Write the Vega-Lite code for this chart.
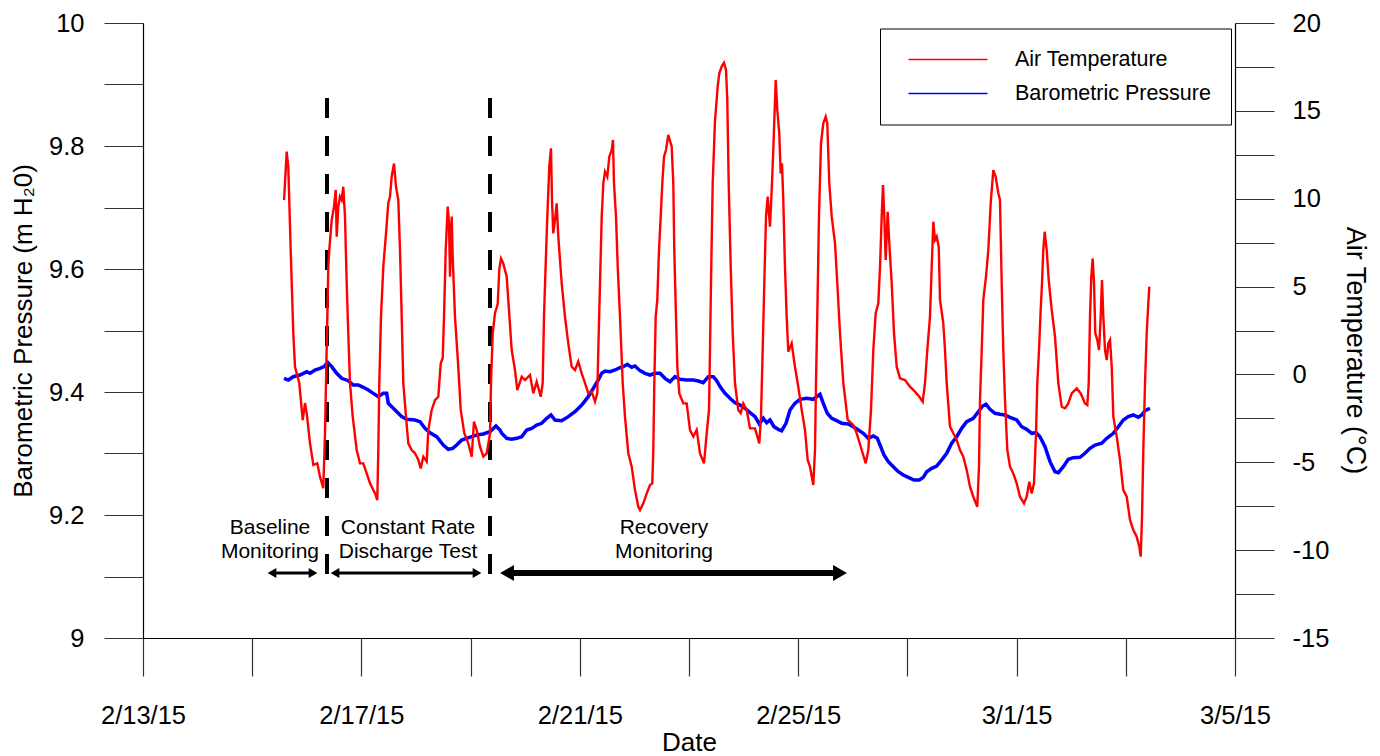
{
  "$schema": "https://vega.github.io/schema/vega-lite/v6.json",
  "width": 1092,
  "height": 615,
  "autosize": {"type": "none"},
  "padding": {"left": 143, "top": 23, "right": 145, "bottom": 118},
  "background": "white",
  "config": {
    "view": {"stroke": null},
    "font": "Liberation Sans",
    "axis": {
      "labelFont": "Liberation Sans", "titleFont": "Liberation Sans",
      "labelFontSize": 25.5, "titleFontSize": 26, "titleFontWeight": "normal",
      "labelColor": "black", "titleColor": "black",
      "domainColor": "black", "domainWidth": 1.2,
      "tickColor": "#333", "tickWidth": 1.2,
      "grid": false, "labelOverlap": false, "labelFlush": false, "labelBound": false
    },
    "text": {"font": "Liberation Sans"}
  },
  "datasets": {
    "temp": [
      {"t":"2015-02-15T14:00","v":9.93},{"t":"2015-02-15T14:25","v":10.9},{"t":"2015-02-15T15:10","v":12.68},{"t":"2015-02-15T15:52","v":11.8},{"t":"2015-02-15T16:55","v":7.08},{"t":"2015-02-15T18:04","v":2.34},{"t":"2015-02-15T18:49","v":0.44},{"t":"2015-02-15T20:42","v":-0.5},{"t":"2015-02-15T22:12","v":-2.6},{"t":"2015-02-15T23:13","v":-1.63},{"t":"2015-02-15T23:58","v":-2.2},
      {"t":"2015-02-16T01:25","v":-3.92},{"t":"2015-02-16T02:52","v":-5.15},{"t":"2015-02-16T04:37","v":-5.06},{"t":"2015-02-16T05:48","v":-5.82},{"t":"2015-02-16T07:15","v":-6.48},{"t":"2015-02-16T08:00","v":-3.35},{"t":"2015-02-16T08:26","v":-0.5},{"t":"2015-02-16T09:01","v":3.29},{"t":"2015-02-16T09:27","v":6.13},{"t":"2015-02-16T09:53","v":7.08},{"t":"2015-02-16T10:57","v":8.79},{"t":"2015-02-16T11:58","v":9.55},{"t":"2015-02-16T12:43","v":10.5},{"t":"2015-02-16T13:09","v":7.84},{"t":"2015-02-16T13:51","v":9.55},{"t":"2015-02-16T14:35","v":10.12},{"t":"2015-02-16T15:20","v":9.93},{"t":"2015-02-16T16:02","v":10.68},{"t":"2015-02-16T16:47","v":8.98},{"t":"2015-02-16T17:32","v":5.19},{"t":"2015-02-16T18:14","v":2.34},{"t":"2015-02-16T18:59","v":-0.5},{"t":"2015-02-16T20:11","v":-2.4},{"t":"2015-02-16T21:56","v":-4.3},{"t":"2015-02-16T23:23","v":-5.06},
      {"t":"2015-02-17T00:50","v":-5.06},{"t":"2015-02-17T02:20","v":-5.63},{"t":"2015-02-17T03:47","v":-6.2},{"t":"2015-02-17T05:59","v":-6.77},{"t":"2015-02-17T06:59","v":-7.15},{"t":"2015-02-17T07:26","v":-4.3},{"t":"2015-02-17T07:52","v":-0.5},{"t":"2015-02-17T08:37","v":3.29},{"t":"2015-02-17T09:38","v":6.13},{"t":"2015-02-17T10:49","v":8.03},{"t":"2015-02-17T11:49","v":9.74},{"t":"2015-02-17T12:34","v":10.12},{"t":"2015-02-17T13:19","v":11.25},{"t":"2015-02-17T14:20","v":12.0},{"t":"2015-02-17T15:13","v":10.68},{"t":"2015-02-17T16:13","v":9.93},{"t":"2015-02-17T16:58","v":7.08},{"t":"2015-02-17T17:43","v":3.29},{"t":"2015-02-17T18:25","v":-0.5},{"t":"2015-02-17T19:36","v":-2.4},{"t":"2015-02-17T20:37","v":-3.92},{"t":"2015-02-17T22:07","v":-4.3},{"t":"2015-02-17T23:34","v":-4.49},
      {"t":"2015-02-18T01:01","v":-4.87},{"t":"2015-02-18T02:04","v":-5.35},{"t":"2015-02-18T03:13","v":-4.68},{"t":"2015-02-18T04:42","v":-4.96},{"t":"2015-02-18T05:25","v":-3.16},{"t":"2015-02-18T06:54","v":-2.02},{"t":"2015-02-18T08:21","v":-1.46},{"t":"2015-02-18T09:48","v":-1.27},{"t":"2015-02-18T10:52","v":0.63},{"t":"2015-02-18T11:44","v":0.92},{"t":"2015-02-18T12:19","v":3.29},{"t":"2015-02-18T13:04","v":7.08},{"t":"2015-02-18T13:56","v":9.55},{"t":"2015-02-18T14:31","v":8.6},{"t":"2015-02-18T14:57","v":5.56},{"t":"2015-02-18T15:41","v":8.98},{"t":"2015-02-18T16:08","v":6.7},{"t":"2015-02-18T17:08","v":3.29},{"t":"2015-02-18T18:35","v":0.44},{"t":"2015-02-18T19:39","v":-2.02},{"t":"2015-02-18T21:14","v":-3.35},{"t":"2015-02-18T22:59","v":-3.92},
      {"t":"2015-02-19T00:29","v":-4.68},{"t":"2015-02-19T01:29","v":-2.69},{"t":"2015-02-19T02:41","v":-3.16},{"t":"2015-02-19T04:08","v":-4.11},{"t":"2015-02-19T05:35","v":-4.68},{"t":"2015-02-19T07:05","v":-4.49},{"t":"2015-02-19T08:32","v":-3.35},{"t":"2015-02-19T08:58","v":-0.5},{"t":"2015-02-19T09:43","v":2.34},{"t":"2015-02-19T10:44","v":3.5},{"t":"2015-02-19T11:55","v":4.0},{"t":"2015-02-19T12:37","v":6.0},{"t":"2015-02-19T13:22","v":6.6},{"t":"2015-02-19T14:22","v":6.32},{"t":"2015-02-19T15:52","v":5.56},{"t":"2015-02-19T16:34","v":4.23},{"t":"2015-02-19T18:04","v":1.39},{"t":"2015-02-19T19:31","v":0.25},{"t":"2015-02-19T20:32","v":-0.89},{"t":"2015-02-19T22:28","v":-0.13},{"t":"2015-02-19T23:55","v":-0.32},
      {"t":"2015-02-20T02:07","v":-0.03},{"t":"2015-02-20T03:34","v":-1.08},{"t":"2015-02-20T05:03","v":-0.41},{"t":"2015-02-20T06:49","v":-1.27},{"t":"2015-02-20T07:41","v":-0.5},{"t":"2015-02-20T08:16","v":3.29},{"t":"2015-02-20T09:01","v":6.32},{"t":"2015-02-20T09:43","v":8.98},{"t":"2015-02-20T10:35","v":11.82},{"t":"2015-02-20T11:20","v":12.87},{"t":"2015-02-20T11:47","v":9.93},{"t":"2015-02-20T12:21","v":8.03},{"t":"2015-02-20T13:06","v":8.79},{"t":"2015-02-20T13:50","v":9.74},{"t":"2015-02-20T14:33","v":7.84},{"t":"2015-02-20T16:02","v":5.19},{"t":"2015-02-20T17:29","v":3.29},{"t":"2015-02-20T18:56","v":1.77},{"t":"2015-02-20T20:26","v":0.44},{"t":"2015-02-20T21:53","v":0.25},{"t":"2015-02-20T23:20","v":0.73},
      {"t":"2015-02-21T00:50","v":0.06},{"t":"2015-02-21T02:17","v":-0.5},{"t":"2015-02-21T03:44","v":-1.08},{"t":"2015-02-21T05:14","v":-0.98},{"t":"2015-02-21T06:41","v":-1.55},{"t":"2015-02-21T07:41","v":-1.08},{"t":"2015-02-21T08:08","v":1.39},{"t":"2015-02-21T08:53","v":5.19},{"t":"2015-02-21T09:38","v":8.98},{"t":"2015-02-21T10:20","v":10.88},{"t":"2015-02-21T11:05","v":11.54},{"t":"2015-02-21T12:05","v":11.25},{"t":"2015-02-21T12:58","v":12.39},{"t":"2015-02-21T14:01","v":12.77},{"t":"2015-02-21T14:35","v":13.34},{"t":"2015-02-21T15:02","v":10.88},{"t":"2015-02-21T15:55","v":8.98},{"t":"2015-02-21T16:40","v":6.13},{"t":"2015-02-21T17:40","v":3.29},{"t":"2015-02-21T18:52","v":-0.5},{"t":"2015-02-21T19:52","v":-2.4},{"t":"2015-02-21T21:19","v":-4.49},{"t":"2015-02-21T22:49","v":-5.25},
      {"t":"2015-02-22T00:16","v":-6.58},{"t":"2015-02-22T01:43","v":-7.53},{"t":"2015-02-22T02:28","v":-7.72},{"t":"2015-02-22T03:55","v":-7.34},{"t":"2015-02-22T05:25","v":-6.77},{"t":"2015-02-22T06:52","v":-6.29},{"t":"2015-02-22T07:52","v":-6.2},{"t":"2015-02-22T08:19","v":-4.3},{"t":"2015-02-22T08:45","v":-0.5},{"t":"2015-02-22T09:22","v":3.29},{"t":"2015-02-22T10:04","v":4.24},{"t":"2015-02-22T10:49","v":7.08},{"t":"2015-02-22T11:34","v":8.98},{"t":"2015-02-22T12:16","v":10.88},{"t":"2015-02-22T13:01","v":12.39},{"t":"2015-02-22T13:53","v":12.77},{"t":"2015-02-22T14:54","v":13.63},{"t":"2015-02-22T16:23","v":12.96},{"t":"2015-02-22T17:06","v":10.88},{"t":"2015-02-22T17:32","v":7.08},{"t":"2015-02-22T18:17","v":3.29},{"t":"2015-02-22T18:52","v":0.44},{"t":"2015-02-22T19:44","v":-1.08},{"t":"2015-02-22T21:30","v":-1.65},{"t":"2015-02-22T22:59","v":-1.65},
      {"t":"2015-02-23T00:26","v":-3.16},{"t":"2015-02-23T01:53","v":-3.54},{"t":"2015-02-23T03:23","v":-3.16},{"t":"2015-02-23T04:50","v":-4.49},{"t":"2015-02-23T06:36","v":-5.06},{"t":"2015-02-23T07:47","v":-3.35},{"t":"2015-02-23T08:47","v":-2.02},{"t":"2015-02-23T09:14","v":1.39},{"t":"2015-02-23T09:40","v":5.19},{"t":"2015-02-23T10:25","v":10.88},{"t":"2015-02-23T11:25","v":14.4},{"t":"2015-02-23T12:37","v":16.4},{"t":"2015-02-23T13:19","v":17.14},{"t":"2015-02-23T14:22","v":17.52},{"t":"2015-02-23T15:23","v":17.74},{"t":"2015-02-23T16:16","v":17.33},{"t":"2015-02-23T16:50","v":15.62},{"t":"2015-02-23T17:27","v":10.88},{"t":"2015-02-23T18:20","v":6.13},{"t":"2015-02-23T19:13","v":2.34},{"t":"2015-02-23T20:13","v":-0.5},{"t":"2015-02-23T21:40","v":-2.02},{"t":"2015-02-23T22:43","v":-2.2},{"t":"2015-02-23T23:52","v":-1.65},
      {"t":"2015-02-24T01:22","v":-2.02},{"t":"2015-02-24T02:49","v":-3.07},{"t":"2015-02-24T05:01","v":-3.07},{"t":"2015-02-24T06:54","v":-3.92},{"t":"2015-02-24T07:39","v":-2.4},{"t":"2015-02-24T08:23","v":1.39},{"t":"2015-02-24T09:06","v":5.19},{"t":"2015-02-24T09:51","v":8.98},{"t":"2015-02-24T10:35","v":10.12},{"t":"2015-02-24T11:36","v":8.41},{"t":"2015-02-24T12:21","v":10.5},{"t":"2015-02-24T13:03","v":12.77},{"t":"2015-02-24T14:07","v":16.76},{"t":"2015-02-24T14:49","v":15.05},{"t":"2015-02-24T15:41","v":13.72},{"t":"2015-02-24T16:18","v":11.44},{"t":"2015-02-24T16:52","v":12.01},{"t":"2015-02-24T17:27","v":9.93},{"t":"2015-02-24T18:11","v":6.13},{"t":"2015-02-24T18:56","v":3.29},{"t":"2015-02-24T19:38","v":1.29},{"t":"2015-02-24T21:08","v":1.77},{"t":"2015-02-24T22:35","v":0.44},
      {"t":"2015-02-25T00:02","v":-0.7},{"t":"2015-02-25T01:32","v":-2.02},{"t":"2015-02-25T02:59","v":-3.16},{"t":"2015-02-25T04:10","v":-4.87},{"t":"2015-02-25T05:11","v":-5.25},{"t":"2015-02-25T06:38","v":-6.29},{"t":"2015-02-25T07:23","v":-4.3},{"t":"2015-02-25T07:49","v":-0.5},{"t":"2015-02-25T08:23","v":3.29},{"t":"2015-02-25T09:08","v":8.98},{"t":"2015-02-25T10:01","v":13.15},{"t":"2015-02-25T11:02","v":14.29},{"t":"2015-02-25T12:05","v":14.67},{"t":"2015-02-25T12:47","v":14.29},{"t":"2015-02-25T13:40","v":10.88},{"t":"2015-02-25T14:44","v":8.98},{"t":"2015-02-25T16:11","v":7.46},{"t":"2015-02-25T17:11","v":5.19},{"t":"2015-02-25T18:23","v":2.34},{"t":"2015-02-25T19:50","v":-0.5},{"t":"2015-02-25T21:46","v":-2.59},
      {"t":"2015-02-26T00:13","v":-2.88},{"t":"2015-02-26T01:43","v":-3.35},{"t":"2015-02-26T03:55","v":-4.3},{"t":"2015-02-26T05:41","v":-5.06},{"t":"2015-02-26T06:49","v":-4.3},{"t":"2015-02-26T08:00","v":-2.02},{"t":"2015-02-26T09:01","v":1.39},{"t":"2015-02-26T10:04","v":3.48},{"t":"2015-02-26T11:13","v":4.05},{"t":"2015-02-26T11:58","v":6.13},{"t":"2015-02-26T12:42","v":8.98},{"t":"2015-02-26T13:16","v":10.78},{"t":"2015-02-26T13:51","v":8.98},{"t":"2015-02-26T14:28","v":6.51},{"t":"2015-02-26T15:20","v":9.26},{"t":"2015-02-26T16:03","v":7.46},{"t":"2015-02-26T17:06","v":5.19},{"t":"2015-02-26T18:07","v":2.34},{"t":"2015-02-26T19:18","v":0.44},{"t":"2015-02-26T20:45","v":-0.22},{"t":"2015-02-26T22:57","v":-0.32},
      {"t":"2015-02-27T01:08","v":-0.7},{"t":"2015-02-27T03:20","v":-0.98},{"t":"2015-02-27T05:14","v":-1.27},{"t":"2015-02-27T06:44","v":-1.55},{"t":"2015-02-27T07:44","v":-0.5},{"t":"2015-02-27T08:45","v":1.39},{"t":"2015-02-27T09:56","v":3.29},{"t":"2015-02-27T10:41","v":6.13},{"t":"2015-02-27T11:23","v":8.69},{"t":"2015-02-27T12:08","v":7.65},{"t":"2015-02-27T12:53","v":7.84},{"t":"2015-02-27T13:46","v":7.27},{"t":"2015-02-27T14:20","v":4.24},{"t":"2015-02-27T15:47","v":2.91},{"t":"2015-02-27T16:32","v":1.39},{"t":"2015-02-27T17:16","v":-0.5},{"t":"2015-02-27T18:44","v":-2.97},{"t":"2015-02-27T20:11","v":-3.35},{"t":"2015-02-27T21:40","v":-3.73},{"t":"2015-02-27T23:07","v":-4.3},
      {"t":"2015-02-28T00:34","v":-4.68},{"t":"2015-02-28T02:04","v":-5.44},{"t":"2015-02-28T03:31","v":-6.39},{"t":"2015-02-28T04:58","v":-6.96},{"t":"2015-02-28T06:43","v":-7.53},{"t":"2015-02-28T07:28","v":-5.25},{"t":"2015-02-28T07:55","v":-1.46},{"t":"2015-02-28T08:40","v":1.39},{"t":"2015-02-28T09:22","v":4.24},{"t":"2015-02-28T10:33","v":5.56},{"t":"2015-02-28T11:34","v":7.08},{"t":"2015-02-28T12:37","v":9.74},{"t":"2015-02-28T13:46","v":11.63},{"t":"2015-02-28T14:49","v":11.25},{"t":"2015-02-28T15:58","v":10.31},{"t":"2015-02-28T16:42","v":9.93},{"t":"2015-02-28T17:27","v":5.19},{"t":"2015-02-28T18:09","v":1.39},{"t":"2015-02-28T18:54","v":-1.46},{"t":"2015-02-28T19:55","v":-4.3},{"t":"2015-02-28T21:06","v":-5.25},{"t":"2015-02-28T22:33","v":-5.63},
      {"t":"2015-03-01T00:02","v":-6.2},{"t":"2015-03-01T01:29","v":-6.96},{"t":"2015-03-01T03:15","v":-7.34},{"t":"2015-03-01T04:26","v":-6.96},{"t":"2015-03-01T05:35","v":-6.1},{"t":"2015-03-01T06:38","v":-6.77},{"t":"2015-03-01T07:39","v":-6.2},{"t":"2015-03-01T08:32","v":-3.35},{"t":"2015-03-01T09:06","v":-0.5},{"t":"2015-03-01T09:51","v":1.39},{"t":"2015-03-01T10:35","v":3.67},{"t":"2015-03-01T11:10","v":5.19},{"t":"2015-03-01T11:44","v":7.08},{"t":"2015-03-01T12:21","v":8.12},{"t":"2015-03-01T13:14","v":7.08},{"t":"2015-03-01T14:07","v":5.37},{"t":"2015-03-01T15:26","v":3.67},{"t":"2015-03-01T16:53","v":2.15},{"t":"2015-03-01T18:20","v":-0.5},{"t":"2015-03-01T19:50","v":-1.84},{"t":"2015-03-01T21:17","v":-1.93},{"t":"2015-03-01T22:44","v":-1.65},
      {"t":"2015-03-02T00:13","v":-1.08},{"t":"2015-03-02T02:25","v":-0.79},{"t":"2015-03-02T04:11","v":-1.08},{"t":"2015-03-02T06:04","v":-1.65},{"t":"2015-03-02T07:05","v":-1.74},{"t":"2015-03-02T07:42","v":-0.5},{"t":"2015-03-02T08:16","v":3.29},{"t":"2015-03-02T08:50","v":5.56},{"t":"2015-03-02T09:27","v":6.6},{"t":"2015-03-02T10:02","v":5.19},{"t":"2015-03-02T10:36","v":2.34},{"t":"2015-03-02T11:29","v":1.96},{"t":"2015-03-02T12:14","v":1.39},{"t":"2015-03-02T12:58","v":3.29},{"t":"2015-03-02T13:32","v":5.37},{"t":"2015-03-02T14:07","v":3.29},{"t":"2015-03-02T14:52","v":1.39},{"t":"2015-03-02T15:37","v":0.82},{"t":"2015-03-02T16:19","v":1.77},{"t":"2015-03-02T17:04","v":1.96},{"t":"2015-03-02T17:49","v":0.44},{"t":"2015-03-02T18:31","v":-2.4},{"t":"2015-03-02T20:00","v":-3.54},{"t":"2015-03-02T21:27","v":-4.87},{"t":"2015-03-02T22:54","v":-6.58},
      {"t":"2015-03-03T00:24","v":-6.96},{"t":"2015-03-03T01:51","v":-8.28},{"t":"2015-03-03T03:18","v":-8.85},{"t":"2015-03-03T04:47","v":-9.23},{"t":"2015-03-03T05:56","v":-9.8},{"t":"2015-03-03T06:33","v":-10.37},{"t":"2015-03-03T07:08","v":-8.1},{"t":"2015-03-03T07:42","v":-4.3},{"t":"2015-03-03T08:27","v":-0.5},{"t":"2015-03-03T09:11","v":2.34},{"t":"2015-03-03T09:54","v":4.05},{"t":"2015-03-03T10:20","v":5.0}
    ],
    "pres": [
      {"t":"2015-02-15T13:59","p":9.4222},{"t":"2015-02-15T15:52","p":9.4195},{"t":"2015-02-15T18:04","p":9.4249},{"t":"2015-02-15T21:01","p":9.4276},{"t":"2015-02-15T23:58","p":9.433},
      {"t":"2015-02-16T01:25","p":9.4304},{"t":"2015-02-16T03:36","p":9.4358},{"t":"2015-02-16T05:48","p":9.4385},{"t":"2015-02-16T07:34","p":9.4412},{"t":"2015-02-16T09:11","p":9.4483},{"t":"2015-02-16T10:57","p":9.4412},{"t":"2015-02-16T13:09","p":9.4304},{"t":"2015-02-16T15:20","p":9.4222},{"t":"2015-02-16T18:14","p":9.4184},{"t":"2015-02-16T20:26","p":9.4114},{"t":"2015-02-16T22:38","p":9.4114},
      {"t":"2015-02-17T00:50","p":9.4076},{"t":"2015-02-17T03:02","p":9.4033},{"t":"2015-02-17T05:14","p":9.3978},{"t":"2015-02-17T07:26","p":9.3924},{"t":"2015-02-17T09:38","p":9.3978},{"t":"2015-02-17T11:07","p":9.3978},{"t":"2015-02-17T11:49","p":9.3816},{"t":"2015-02-17T14:01","p":9.3735},{"t":"2015-02-17T16:13","p":9.3654},{"t":"2015-02-17T17:43","p":9.3599},{"t":"2015-02-17T19:55","p":9.3556},{"t":"2015-02-17T23:34","p":9.3545},
      {"t":"2015-02-18T01:46","p":9.3518},{"t":"2015-02-18T03:58","p":9.3409},{"t":"2015-02-18T06:09","p":9.3338},{"t":"2015-02-18T09:06","p":9.3273},{"t":"2015-02-18T12:00","p":9.3138},{"t":"2015-02-18T14:12","p":9.3068},{"t":"2015-02-18T16:08","p":9.3084},{"t":"2015-02-18T17:53","p":9.3138},{"t":"2015-02-18T20:05","p":9.322},{"t":"2015-02-18T22:17","p":9.3247},
      {"t":"2015-02-19T00:29","p":9.3273},{"t":"2015-02-19T02:41","p":9.3301},{"t":"2015-02-19T05:35","p":9.3317},{"t":"2015-02-19T08:32","p":9.3355},{"t":"2015-02-19T11:10","p":9.3447},{"t":"2015-02-19T12:55","p":9.3382},{"t":"2015-02-19T13:40","p":9.3328},{"t":"2015-02-19T15:52","p":9.3247},{"t":"2015-02-19T18:04","p":9.3231},{"t":"2015-02-19T20:16","p":9.3247},{"t":"2015-02-19T22:28","p":9.3273},
      {"t":"2015-02-20T00:40","p":9.3382},{"t":"2015-02-20T02:52","p":9.3409},{"t":"2015-02-20T05:03","p":9.3463},{"t":"2015-02-20T07:15","p":9.3491},{"t":"2015-02-20T09:27","p":9.3572},{"t":"2015-02-20T11:20","p":9.3626},{"t":"2015-02-20T13:06","p":9.3545},{"t":"2015-02-20T16:02","p":9.3534},{"t":"2015-02-20T18:56","p":9.3599},{"t":"2015-02-20T21:53","p":9.368},
      {"t":"2015-02-21T00:50","p":9.3789},{"t":"2015-02-21T03:44","p":9.3924},{"t":"2015-02-21T05:56","p":9.406},{"t":"2015-02-21T08:08","p":9.4195},{"t":"2015-02-21T09:38","p":9.4304},{"t":"2015-02-21T11:05","p":9.4341},{"t":"2015-02-21T13:17","p":9.433},{"t":"2015-02-21T15:28","p":9.4358},{"t":"2015-02-21T17:40","p":9.4396},{"t":"2015-02-21T19:07","p":9.4412},{"t":"2015-02-21T20:53","p":9.445},{"t":"2015-02-21T22:49","p":9.4401},
      {"t":"2015-02-22T00:16","p":9.4423},{"t":"2015-02-22T02:28","p":9.4347},{"t":"2015-02-22T04:40","p":9.4304},{"t":"2015-02-22T06:52","p":9.4276},{"t":"2015-02-22T09:03","p":9.4304},{"t":"2015-02-22T11:15","p":9.4304},{"t":"2015-02-22T13:27","p":9.4222},{"t":"2015-02-22T15:39","p":9.4168},{"t":"2015-02-22T17:51","p":9.4249},{"t":"2015-02-22T20:02","p":9.4206},{"t":"2015-02-22T22:59","p":9.4195},
      {"t":"2015-02-23T01:53","p":9.4195},{"t":"2015-02-23T04:05","p":9.4179},{"t":"2015-02-23T06:17","p":9.4152},{"t":"2015-02-23T08:29","p":9.4249},{"t":"2015-02-23T10:41","p":9.4249},{"t":"2015-02-23T12:10","p":9.4184},{"t":"2015-02-23T13:38","p":9.4087},{"t":"2015-02-23T15:49","p":9.3978},{"t":"2015-02-23T18:01","p":9.3897},{"t":"2015-02-23T20:13","p":9.3826},{"t":"2015-02-23T22:25","p":9.3789},
      {"t":"2015-02-24T00:37","p":9.3735},{"t":"2015-02-24T02:49","p":9.3664},{"t":"2015-02-24T05:01","p":9.3599},{"t":"2015-02-24T06:54","p":9.348},{"t":"2015-02-24T08:40","p":9.3572},{"t":"2015-02-24T10:09","p":9.35},{"t":"2015-02-24T11:36","p":9.3545},{"t":"2015-02-24T13:22","p":9.3436},{"t":"2015-02-24T15:15","p":9.3393},{"t":"2015-02-24T16:44","p":9.337},{"t":"2015-02-24T18:38","p":9.3491},{"t":"2015-02-24T20:24","p":9.3707},{"t":"2015-02-24T22:35","p":9.3816},
      {"t":"2015-02-25T00:47","p":9.3881},{"t":"2015-02-25T03:44","p":9.3897},{"t":"2015-02-25T06:38","p":9.3881},{"t":"2015-02-25T08:08","p":9.3924},{"t":"2015-02-25T09:35","p":9.3962},{"t":"2015-02-25T11:02","p":9.3816},{"t":"2015-02-25T12:47","p":9.3654},{"t":"2015-02-25T14:44","p":9.3572},{"t":"2015-02-25T16:56","p":9.3534},{"t":"2015-02-25T19:07","p":9.3491},{"t":"2015-02-25T22:01","p":9.348},
      {"t":"2015-02-26T00:13","p":9.3436},{"t":"2015-02-26T02:25","p":9.3382},{"t":"2015-02-26T04:37","p":9.3328},{"t":"2015-02-26T06:49","p":9.3247},{"t":"2015-02-26T09:01","p":9.3285},{"t":"2015-02-26T10:46","p":9.3247},{"t":"2015-02-26T12:16","p":9.311},{"t":"2015-02-26T13:43","p":9.2976},{"t":"2015-02-26T15:36","p":9.2867},{"t":"2015-02-26T17:48","p":9.2786},{"t":"2015-02-26T20:00","p":9.2704},{"t":"2015-02-26T22:12","p":9.265},
      {"t":"2015-02-27T00:24","p":9.2612},{"t":"2015-02-27T02:54","p":9.2569},{"t":"2015-02-27T05:14","p":9.2569},{"t":"2015-02-27T06:59","p":9.2612},{"t":"2015-02-27T08:29","p":9.2704},{"t":"2015-02-27T10:41","p":9.2759},{"t":"2015-02-27T12:53","p":9.2797},{"t":"2015-02-27T15:04","p":9.2894},{"t":"2015-02-27T17:16","p":9.3003},{"t":"2015-02-27T19:28","p":9.3166},{"t":"2015-02-27T21:40","p":9.3273},{"t":"2015-02-27T23:52","p":9.3409},
      {"t":"2015-02-28T02:04","p":9.3518},{"t":"2015-02-28T04:58","p":9.3572},{"t":"2015-02-28T07:10","p":9.368},{"t":"2015-02-28T09:06","p":9.3772},{"t":"2015-02-28T10:33","p":9.38},{"t":"2015-02-28T12:19","p":9.3718},{"t":"2015-02-28T14:31","p":9.3654},{"t":"2015-02-28T16:42","p":9.3637},{"t":"2015-02-28T18:54","p":9.3626},{"t":"2015-02-28T21:06","p":9.3588},
      {"t":"2015-03-01T00:02","p":9.3545},{"t":"2015-03-01T02:14","p":9.3436},{"t":"2015-03-01T04:26","p":9.3393},{"t":"2015-03-01T06:38","p":9.3328},{"t":"2015-03-01T08:32","p":9.3338},{"t":"2015-03-01T10:17","p":9.3273},{"t":"2015-03-01T12:29","p":9.311},{"t":"2015-03-01T14:41","p":9.2867},{"t":"2015-03-01T16:53","p":9.2704},{"t":"2015-03-01T18:20","p":9.2688},{"t":"2015-03-01T20:32","p":9.2786},{"t":"2015-03-01T22:44","p":9.2905},
      {"t":"2015-03-02T00:56","p":9.2932},{"t":"2015-03-02T03:52","p":9.2938},{"t":"2015-03-02T06:04","p":9.3003},{"t":"2015-03-02T08:16","p":9.3084},{"t":"2015-03-02T10:28","p":9.3138},{"t":"2015-03-02T13:25","p":9.3166},{"t":"2015-03-02T15:37","p":9.3247},{"t":"2015-03-02T18:31","p":9.3328},{"t":"2015-03-02T20:43","p":9.3436},{"t":"2015-03-02T22:54","p":9.3545},
      {"t":"2015-03-03T01:06","p":9.3599},{"t":"2015-03-03T03:18","p":9.3626},{"t":"2015-03-03T05:30","p":9.3588},{"t":"2015-03-03T06:59","p":9.3626},{"t":"2015-03-03T08:27","p":9.3696},{"t":"2015-03-03T10:38","p":9.3735}
    ],
    "phases": [{"t":"2015-02-16T08:53"},{"t":"2015-02-19T08:32"}],
    "arrows": [
      {"phase":"Baseline","t":"2015-02-15T08:42","t2":"2015-02-16T02:44"},
      {"phase":"Constant","t":"2015-02-16T12:24","t2":"2015-02-19T02:49"},
      {"phase":"Recovery","t":"2015-02-19T16:00","t2":"2015-02-25T18:22"}
    ],
    "labels": [
      {"t":"2015-02-15T07:49","line1":"Baseline","line2":"Monitoring"},
      {"t":"2015-02-17T20:29","line1":"Constant Rate","line2":"Discharge Test"},
      {"t":"2015-02-22T13:01","line1":"Recovery","line2":"Monitoring"}
    ]
  },
  "layer": [
    {
      "layer": [
        {
          "data": {"name": "pres"},
          "mark": {"type": "line", "strokeWidth": 3.5},
          "encoding": {
            "x": {
              "field": "t", "type": "temporal",
              "scale": {"domain": [{"year":2015,"month":2,"date":13},{"year":2015,"month":3,"date":5}]},
              "axis": {
                "title": "Date",
                "values": [
                  {"year":2015,"month":2,"date":13},{"year":2015,"month":2,"date":15},{"year":2015,"month":2,"date":17},{"year":2015,"month":2,"date":19},{"year":2015,"month":2,"date":21},{"year":2015,"month":2,"date":23},{"year":2015,"month":2,"date":25},{"year":2015,"month":2,"date":27},{"year":2015,"month":3,"date":1},{"year":2015,"month":3,"date":3},{"year":2015,"month":3,"date":5}
                ],
                "tickSize": 38,
                "labelPadding": 27,
                "titlePadding": 1,
                "labelExpr": "round((datum.value - datetime(2015,1,13))/86400000) % 4 == 0 ? timeFormat(datum.value, '%-m/%-d/%y') : ''",
                "encode": {"ticks": {"y2": {"condition": {"test": "round((datum.value - datetime(2015,1,13))/86400000) % 4 == 0", "value": 38}, "value": 19}}}
              }
            },
            "y": {
              "field": "p", "type": "quantitative",
              "scale": {"domain": [9, 10], "nice": false, "zero": false},
              "axis": {
                "orient": "left",
                "title": "Barometric Pressure (m H₂0)",
                "values": [9, 9.1, 9.2, 9.3, 9.4, 9.5, 9.6, 9.7, 9.8, 9.9, 10],
                "tickSize": 39,
                "labelPadding": 20,
                "titlePadding": 12,
                "labelExpr": "abs(datum.value*5 - round(datum.value*5)) < 0.01 ? '' + datum.value : ''",
                "encode": {"ticks": {"x2": {"condition": {"test": "abs(datum.value*5 - round(datum.value*5)) < 0.01", "value": -39}, "value": -20}}}
              }
            },
            "color": {
              "datum": "Barometric Pressure", "type": "nominal",
              "scale": {"domain": ["Air Temperature", "Barometric Pressure"], "range": ["#ff0000", "#0000ff"]},
              "legend": {
                "title": null, "orient": "none", "legendX": 737, "legendY": 5.5,
                "symbolType": "M-4,0H4", "symbolSize": 390, "symbolStrokeWidth": 1.5, "symbolOffset": 37,
                "labelFontSize": 21.5, "labelFont": "Liberation Sans", "labelColor": "black",
                "labelOffset": 56, "labelLimit": 400,
                "strokeColor": "black", "fillColor": "white", "padding": 20, "rowPadding": 12
              }
            }
          }
        },
        {
          "data": {"name": "phases"},
          "mark": {"type": "rule", "strokeWidth": 4, "strokeDash": [20, 18], "color": "black"},
          "encoding": {
            "x": {"field": "t", "type": "temporal"},
            "y": {"datum": 9.878, "type": "quantitative"},
            "y2": {"datum": 9.097}
          }
        },
        {
          "data": {"name": "arrows"},
          "mark": {"type": "rule", "color": "black"},
          "encoding": {
            "x": {"field": "t", "type": "temporal"},
            "x2": {"field": "t2"},
            "y": {"datum": 9.1057, "type": "quantitative"},
            "strokeWidth": {"condition": {"test": "datum.phase === 'Recovery'", "value": 6}, "value": 3}
          }
        },
        {
          "data": {"name": "arrows"},
          "mark": {"type": "point", "shape": "triangle-left", "filled": true, "color": "black", "opacity": 1, "strokeWidth": 0},
          "encoding": {
            "x": {"field": "t", "type": "temporal"},
            "y": {"datum": 9.1057, "type": "quantitative"},
            "size": {"condition": {"test": "datum.phase === 'Recovery'", "value": 256}, "value": 100}
          }
        },
        {
          "data": {"name": "arrows"},
          "mark": {"type": "point", "shape": "triangle-right", "filled": true, "color": "black", "opacity": 1, "strokeWidth": 0},
          "encoding": {
            "x": {"field": "t2", "type": "temporal"},
            "y": {"datum": 9.1057, "type": "quantitative"},
            "size": {"condition": {"test": "datum.phase === 'Recovery'", "value": 256}, "value": 100}
          }
        },
        {
          "data": {"name": "labels"},
          "mark": {"type": "text", "fontSize": 21, "color": "black", "align": "center", "baseline": "alphabetic"},
          "encoding": {
            "x": {"field": "t", "type": "temporal"},
            "y": {"datum": 9.1691, "type": "quantitative"},
            "text": {"field": "line1"}
          }
        },
        {
          "data": {"name": "labels"},
          "mark": {"type": "text", "fontSize": 21, "color": "black", "align": "center", "baseline": "alphabetic"},
          "encoding": {
            "x": {"field": "t", "type": "temporal"},
            "y": {"datum": 9.1301, "type": "quantitative"},
            "text": {"field": "line2"}
          }
        }
      ]
    },
    {
      "layer": [
        {
          "data": {"name": "temp"},
          "mark": {"type": "line", "strokeWidth": 2.4},
          "encoding": {
            "x": {"field": "t", "type": "temporal"},
            "y": {
              "field": "v", "type": "quantitative",
              "scale": {"domain": [-15, 20], "nice": false, "zero": false},
              "axis": {
                "orient": "right",
                "title": "Air Temperature (°C)",
                "titleFontSize": 27,
                "titleY": 327,
                "values": [-15, -12.5, -10, -7.5, -5, -2.5, 0, 2.5, 5, 7.5, 10, 12.5, 15, 17.5, 20],
                "tickSize": 39,
                "labelPadding": 18,
                "titlePadding": 12,
                "labelExpr": "datum.value % 5 == 0 ? '' + datum.value : ''",
                "encode": {"ticks": {"x2": {"condition": {"test": "datum.value % 5 == 0", "value": 39}, "value": 20}}}
              }
            },
            "color": {
              "datum": "Air Temperature", "type": "nominal",
              "scale": {"domain": ["Air Temperature", "Barometric Pressure"], "range": ["#ff0000", "#0000ff"]},
              "legend": {
                "title": null, "orient": "none", "legendX": 737, "legendY": 5.5,
                "symbolType": "M-4,0H4", "symbolSize": 390, "symbolStrokeWidth": 1.5, "symbolOffset": 37,
                "labelFontSize": 21.5, "labelFont": "Liberation Sans", "labelColor": "black",
                "labelOffset": 56, "labelLimit": 400,
                "strokeColor": "black", "fillColor": "white", "padding": 20, "rowPadding": 12
              }
            }
          }
        }
      ]
    }
  ],
  "resolve": {"scale": {"y": "independent"}}
}
